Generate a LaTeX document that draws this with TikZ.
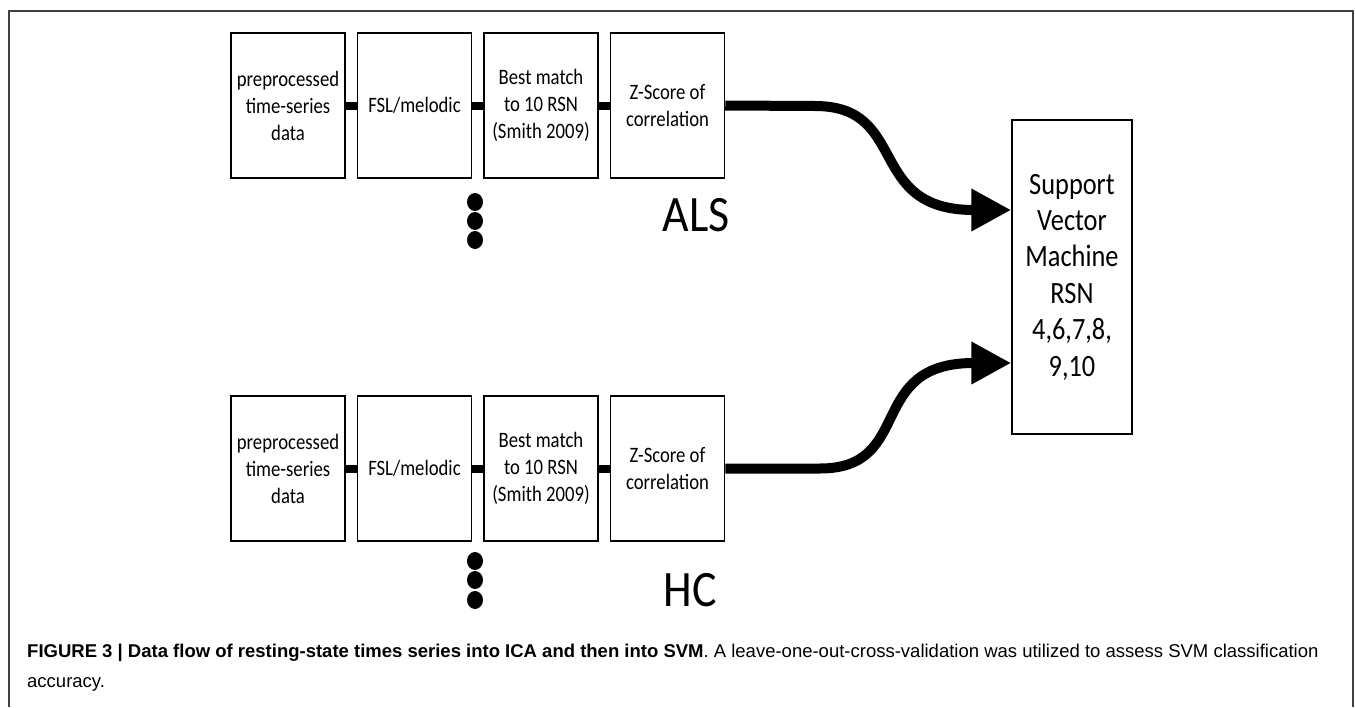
\documentclass[tikz,border=0pt]{standalone}
\usepackage{fontspec}
\setmainfont{Carlito}
\newfontfamily\boxfont[FakeStretch=0.85]{Carlito}
\newfontfamily\grpfont[FakeStretch=0.9]{Carlito}
\newfontfamily\capfont{Liberation Sans}
\usetikzlibrary{arrows.meta,shapes.geometric}
\begin{document}
\begin{tikzpicture}[x=1pt,y=-1pt,
  stepbox/.style={draw,line width=1.5pt,minimum width=114pt,minimum height=145pt,inner sep=0pt,align=center,font=\boxfont\fontsize{22}{27}\selectfont},
  link/.style={line width=8pt},
  flow/.style={line width=10pt,-{Triangle[length=40pt,width=40pt]}},
  dot/.style={ellipse,fill,inner sep=0pt,minimum width=16pt,minimum height=18pt},
  group/.style={font=\grpfont\fontsize{51}{51}\selectfont},
  svmbox/.style={draw,line width=1.5pt,minimum width=120pt,minimum height=314pt,inner sep=0pt,align=center,font=\boxfont\fontsize{31}{36.4}\selectfont},
  captext/.style={anchor=base west,inner sep=0pt,font=\capfont\fontsize{18.5}{22}\selectfont}]
\useasboundingbox (0,0) rectangle (1355,707);
\draw[line width=1.5pt,black!75] (9,707) -- (9,11) -- (1353,11) -- (1353,707);
% top row
\node[stepbox] (a1) at (288,105.5) {preprocessed\\time-series\\data};
\node[stepbox] (a2) at (414.5,105.5) {FSL/melodic};
\node[stepbox] (a3) at (541,105.5) {Best match\\to 10 RSN\\(Smith 2009)};
\node[stepbox] (a4) at (667.5,105.5) {Z-Score of\\correlation};
\draw[link] (a1) -- (a2);
\draw[link] (a2) -- (a3);
\draw[link] (a3) -- (a4);
\node[dot] (ad1) at (475,202) {};
\node[dot] (ad2) at (475,221) {};
\node[dot] (ad3) at (475,240) {};
\node[group] (als) at (696,215) {ALS};
% bottom row
\node[stepbox] (b1) at (288,468.5) {preprocessed\\time-series\\data};
\node[stepbox] (b2) at (414.5,468.5) {FSL/melodic};
\node[stepbox] (b3) at (541,468.5) {Best match\\to 10 RSN\\(Smith 2009)};
\node[stepbox] (b4) at (667.5,468.5) {Z-Score of\\correlation};
\draw[link] (b1) -- (b2);
\draw[link] (b2) -- (b3);
\draw[link] (b3) -- (b4);
\node[dot] (bd1) at (475,561) {};
\node[dot] (bd2) at (475,580) {};
\node[dot] (bd3) at (475,600) {};
\node[group] (hc) at (690,590) {HC};
% SVM
\node[svmbox] (svm) at (1072,277) {Support\\Vector\\Machine\\RSN\\4,6,7,8,\\9,10};
\draw[flow] (a4.east) -- (815,106) .. controls (910,106) and (865,210) .. ([yshift=67pt]svm.west);
\draw[flow] (b4.east) -- (820,468.5) .. controls (915,468.5) and (865,363) .. ([yshift=-86pt]svm.west);
% caption
\node[captext] (cap1) at (27,657) {\textbf{FIGURE 3 | Data flow of resting-state times series into ICA and then into SVM}. A leave-one-out-cross-validation was utilized to assess SVM classification};
\node[captext] (cap2) at (27,687) {accuracy.};
\end{tikzpicture}
\end{document}
